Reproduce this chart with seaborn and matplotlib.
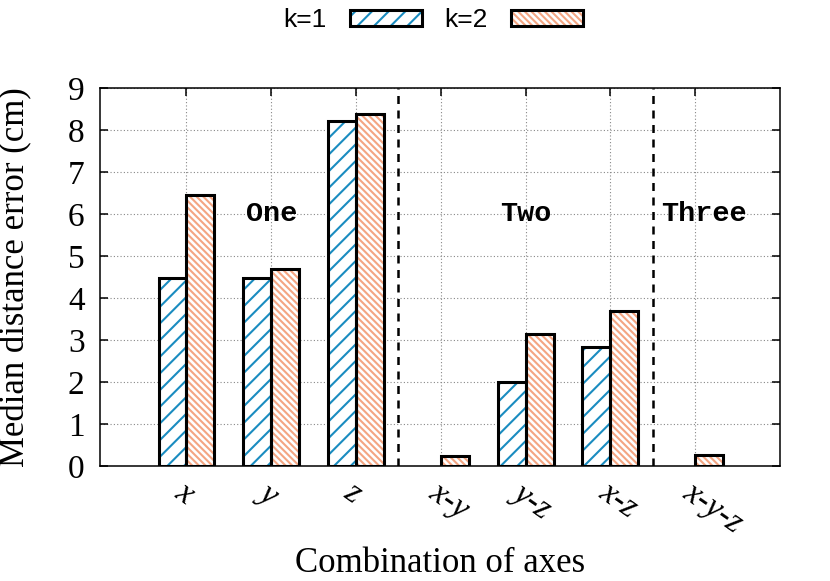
import numpy as np
import pandas as pd
import matplotlib
matplotlib.use("Agg")
import matplotlib.pyplot as plt
import seaborn as sns
from matplotlib.patches import Rectangle, Patch
from matplotlib.legend_handler import HandlerTuple
import matplotlib.transforms as mtransforms

# ---------------- data ----------------
combos = ["x", "y", "z", "x-y", "y-z", "x-z", "x-y-z"]
k1_values = [4.48, 4.48, 8.22, np.nan, 2.00, 2.83, np.nan]
k2_values = [6.45, 4.68, 8.38, 0.25, 3.15, 3.70, 0.27]
series = ["k=1", "k=2"]
group_labels = ["One", "Two", "Three"]
group_label_x = [1, 4, 6.1]
group_label_y = 6.0
separators = [2.5, 5.5]
y_ticks = list(range(0, 10))

hatch_colors = ["#1a8cc0", "#f4a582"]
hatches = ["//", "\\\\\\\\\\"]

df = pd.DataFrame({
    "combo": combos * 2,
    "k": [series[0]] * len(combos) + [series[1]] * len(combos),
    "value": k1_values + k2_values,
})

# ---------------- style ----------------
sns.set_theme(style="ticks")
plt.rcParams["font.family"] = ["Liberation Serif", "DejaVu Serif"]
plt.rcParams["hatch.linewidth"] = 1.5
for key in ["text.color", "axes.labelcolor", "xtick.color", "ytick.color",
            "xtick.labelcolor", "ytick.labelcolor"]:
    plt.rcParams[key] = "black"

fig = plt.figure(figsize=(8.3, 5.81), dpi=100)
ax = fig.add_axes([100 / 830, 1 - 466 / 581, 680 / 830, 378 / 581])

sns.barplot(data=df, x="combo", y="value", hue="k", order=combos,
            hue_order=series, width=0.66, errorbar=None, ax=ax,
            legend=False, saturation=1, zorder=3)

for i, cont in enumerate(ax.containers):
    for bar in cont:
        h = bar.get_height()
        if h is None or np.isnan(h):
            continue
        bar.set_facecolor("white")
        bar.set_edgecolor(hatch_colors[i])
        bar.set_hatch(hatches[i])
        bar.set_linewidth(0)
        ax.add_patch(Rectangle((bar.get_x(), bar.get_y()), bar.get_width(), h,
                               fill=False, edgecolor="black", lw=2.2,
                               zorder=4))

for s in separators:
    ax.axvline(s, color="black", lw=1.8, ls=(0, (3.2, 2.6)), zorder=2)

for lab, gx in zip(group_labels, group_label_x):
    ax.text(gx, group_label_y, lab, ha="center", va="center", color="black",
            family="Liberation Mono", fontweight="bold", fontsize=20.5, zorder=5)

ax.set_xlim(-1.02, 7.0)
ax.set_ylim(0, 9)
ax.set_yticks(y_ticks)
ax.set_xticks(range(len(combos)))
ax.set_xticklabels(combos, rotation=-35, ha="left", rotation_mode="anchor",
                   fontstyle="italic", fontsize=24)
offset = mtransforms.ScaledTranslation(-4 / 100, 0, fig.dpi_scale_trans)
for t in ax.get_xticklabels():
    t.set_transform(t.get_transform() + offset)
ax.tick_params(axis="y", labelsize=24, pad=11)
ax.tick_params(axis="x", pad=8)
ax.tick_params(direction="in", length=6, width=1.1, top=True, right=True,
               color="black")

ax.grid(True, ls=(0, (1, 2)), color="#888888", lw=0.8, zorder=0)
ax.set_axisbelow(True)
for sp in ax.spines.values():
    sp.set_color("black")
    sp.set_linewidth(1.1)

ax.set_xlabel("Combination of axes", fontsize=25)
ax.set_ylabel("Median distance error (cm)", fontsize=25)
ax.xaxis.set_label_coords(0.5, -0.215)
ax.yaxis.set_label_coords(-0.099, 0.5)

handles = []
for hc, hp in zip(hatch_colors, hatches):
    handles.append((Patch(facecolor="white", edgecolor=hc, hatch=hp, lw=0),
                    Patch(fill=False, edgecolor="black", lw=2.2)))
fig.legend(handles, series, loc="center", bbox_to_anchor=(433 / 830, 1 - 20 / 581),
           ncol=2, frameon=False, markerfirst=False, handlelength=2.7,
           handleheight=0.55, handletextpad=0.9, columnspacing=0.85,
           prop={"family": "Liberation Sans", "size": 19},
           handler_map={tuple: HandlerTuple(ndivide=1)})

fig.savefig("out.png", dpi=100)
